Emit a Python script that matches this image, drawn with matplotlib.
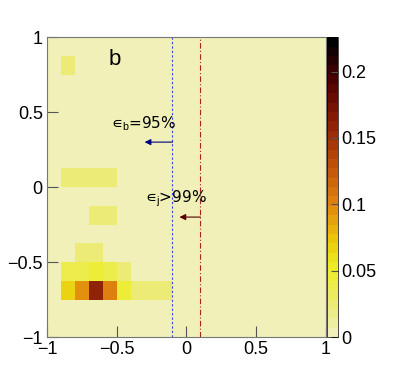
import numpy as np
import matplotlib.pyplot as plt
from matplotlib.colors import LinearSegmentedColormap

plt.rcParams['font.family'] = ['Liberation Sans', 'DejaVu Sans']
plt.rcParams['mathtext.fontset'] = 'custom'
plt.rcParams['mathtext.rm'] = 'Liberation Sans'
plt.rcParams['mathtext.it'] = 'Liberation Sans'

# binning of the 2D histogram
x_edges = np.linspace(-1, 1, 21)
y_edges = np.linspace(-1, 1, 17)

# non-empty bins (bin centres and content)
cell_x = [-0.85, -0.75, -0.65, -0.55, -0.45, -0.35, -0.25, -0.15,
          -0.85, -0.75, -0.65, -0.55, -0.45,
          -0.75, -0.65,
          -0.65, -0.55,
          -0.85, -0.75, -0.65, -0.55,
          -0.85]
cell_y = [-0.6875] * 8 + [-0.5625] * 5 + [-0.4375] * 2 + [-0.1875] * 2 + [0.0625] * 4 + [0.8125]
cell_z = [0.068, 0.092, 0.158, 0.102, 0.047, 0.022, 0.022, 0.022,
          0.036, 0.036, 0.046, 0.04, 0.022,
          0.026, 0.026,
          0.024, 0.024,
          0.022, 0.022, 0.022, 0.022,
          0.026]
z_max = 0.226

# vertical cut lines and arrows
cut_b = -0.1
cut_j = 0.1

H, _, _ = np.histogram2d(cell_x, cell_y, bins=[x_edges, y_edges], weights=cell_z)

cmap = LinearSegmentedColormap.from_list('bodyrad', [
    (0.0, (0.94, 0.94, 0.72)),
    (0.1, (0.92, 0.92, 0.45)),
    (0.22, (0.93, 0.93, 0.15)),
    (0.32, (0.92, 0.78, 0.04)),
    (0.44, (0.88, 0.52, 0.06)),
    (0.6, (0.72, 0.28, 0.03)),
    (0.72, (0.55, 0.12, 0.02)),
    (0.86, (0.32, 0.0, 0.0)),
    (1.0, (0.0, 0.0, 0.0)),
], N=32)

fig = plt.figure(figsize=(3.95, 3.83), dpi=100)
ax = fig.add_axes([0.119, 0.12, 0.706, 0.783])
cax = fig.add_axes([0.828, 0.12, 0.028, 0.783])

mesh = ax.pcolormesh(x_edges, y_edges, H.T, cmap=cmap, vmin=0, vmax=z_max)

ax.axvline(cut_b, color='#3344ee', lw=0.8, ls=(0, (2, 2)))
ax.axvline(cut_j, color='#aa2222', lw=0.8, ls=(0, (5, 2, 1, 2)))

ax.annotate('', xy=(-0.3, 0.3), xytext=(cut_b, 0.3),
            arrowprops=dict(arrowstyle='-|>', color='#000080', lw=0.8,
                            mutation_scale=9, shrinkA=0, shrinkB=0))
ax.annotate('', xy=(-0.05, -0.2), xytext=(cut_j, -0.2),
            arrowprops=dict(arrowstyle='-|>', color='#550000', lw=0.8,
                            mutation_scale=9, shrinkA=0, shrinkB=0))
ax.text(-0.54, 0.42, '\u220a$_{\\rm b}$=95%', fontsize=11, va='center', ha='left',
        family=['DejaVu Sans'])
ax.text(-0.3, -0.08, '\u220a$_{\\rm j}$>99%', fontsize=11, va='center', ha='left',
        family=['DejaVu Sans'])
ax.text(-0.56, 0.85, 'b', fontsize=16, va='center', ha='left')

ax.set_xlim(-1, 1)
ax.set_ylim(-1, 1)
ax.set_xticks([-1, -0.5, 0, 0.5, 1])
ax.set_xticklabels(['\u22121', '\u22120.5', '0', '0.5', '1'])
ax.set_yticks([-1, -0.5, 0, 0.5, 1])
ax.set_yticklabels(['\u22121', '\u22120.5', '0', '0.5', '1'])
ax.tick_params(direction='in', length=8, width=0.8, color='#555555', labelsize=13, pad=3)
for s in ax.spines.values():
    s.set_color('#777777')
    s.set_linewidth(0.8)

cb = fig.colorbar(mesh, cax=cax)
cb.set_ticks([0, 0.05, 0.1, 0.15, 0.2])
cb.set_ticklabels(['0', '0.05', '0.1', '0.15', '0.2'])
cax.tick_params(direction='in', length=5, width=0.8, color='#555555', labelsize=13, pad=2)
cb.outline.set_linewidth(0.5)

fig.savefig('out.png', dpi=100)
